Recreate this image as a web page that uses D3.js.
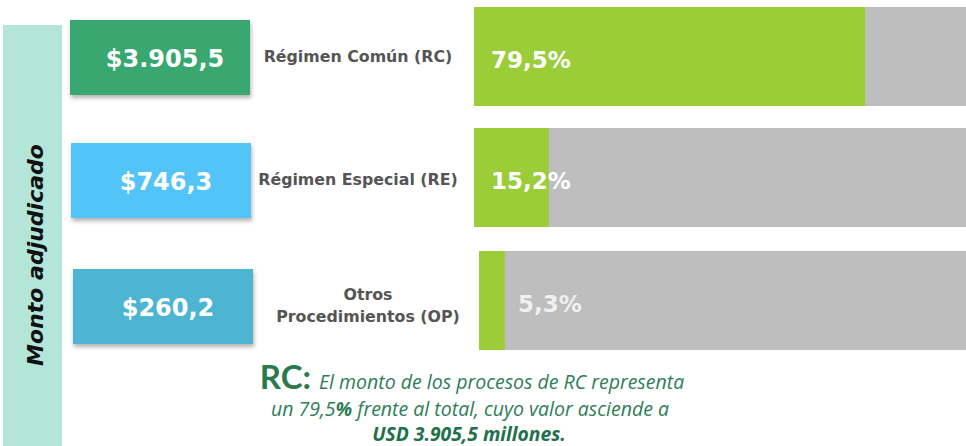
<!DOCTYPE html>
<html>
<head>
<meta charset="utf-8">
<script src="https://cdn.jsdelivr.net/npm/d3@7"></script>
<style>
  body { margin: 0; background: #fff; }
  svg { display: block; }
</style>
</head>
<body>
<script>
var width = 966;
var height = 446;

// data
var categories = ["Régimen Común (RC)", "Régimen Especial (RE)", "Otros Procedimientos (OP)"];
var labelLines = [["Régimen Común (RC)"], ["Régimen Especial (RE)"], ["Otros", "Procedimientos (OP)"]];
var amounts = ["$3.905,5", "$746,3", "$260,2"];
var shares = [79.5, 15.2, 5.3];
var shareLabels = ["79,5%", "15,2%", "5,3%"];

// layout per row
var boxColors = ["#38a76f", "#52c4f8", "#4eb4d2"];
var boxX = [70, 71, 73];
var boxY = [20, 143, 269];
var barX = [474, 474, 479];
var barY = [7, 128, 251];
var barH = 99;
var barRight = 966;

var svg = d3.select("body").append("svg")
  .attr("width", width)
  .attr("height", height);

var defs = svg.append("defs");
var f = defs.append("filter").attr("id", "shadow")
  .attr("x", "-10%").attr("y", "-10%").attr("width", "125%").attr("height", "135%");
f.append("feDropShadow")
  .attr("dx", 1).attr("dy", 3).attr("stdDeviation", 2)
  .attr("flood-color", "#000").attr("flood-opacity", 0.3);

// side band
svg.append("rect")
  .attr("x", 3).attr("y", 25).attr("width", 59).attr("height", height - 25)
  .attr("fill", "#b3e6d9");

svg.append("text")
  .attr("transform", "translate(43,255) rotate(-90)")
  .attr("text-anchor", "middle")
  .attr("font-family", "'DejaVu Sans', sans-serif")
  .attr("font-weight", "bold")
  .attr("font-style", "italic")
  .attr("font-size", 22)
  .attr("fill", "#111")
  .text("Monto adjudicado");

var rows = svg.selectAll("g.row")
  .data(categories)
  .enter().append("g").attr("class", "row");

// amount boxes
rows.append("rect")
  .attr("x", function (d, i) { return boxX[i]; })
  .attr("y", function (d, i) { return boxY[i]; })
  .attr("width", 180).attr("height", 75)
  .attr("fill", function (d, i) { return boxColors[i]; })
  .attr("filter", "url(#shadow)");

rows.append("text")
  .attr("x", function (d, i) { return boxX[i] + 95; })
  .attr("y", function (d, i) { return boxY[i] + 47; })
  .attr("text-anchor", "middle")
  .attr("font-family", "'DejaVu Sans', sans-serif")
  .attr("font-weight", "bold")
  .attr("font-size", 24)
  .attr("fill", "#fff")
  .text(function (d, i) { return amounts[i]; });

// category labels
rows.each(function (d, i) {
  var lines = labelLines[i];
  var cy = boxY[i] + 37;
  var cx = lines.length > 1 ? 368 : 358;
  var t = d3.select(this).append("text")
    .attr("text-anchor", "middle")
    .attr("font-family", "'DejaVu Sans', sans-serif")
    .attr("font-weight", "bold")
    .attr("font-size", 15.8)
    .attr("fill", "#555");
  lines.forEach(function (line, j) {
    t.append("tspan")
      .attr("x", cx)
      .attr("y", cy + 5 + (j - (lines.length - 1) / 2) * 22)
      .text(line);
  });
});

// share bars
rows.each(function (d, i) {
  var x = d3.scaleLinear().domain([0, 100]).range([barX[i], barRight]);
  var g = d3.select(this);
  g.append("rect")
    .attr("x", x(0)).attr("y", barY[i])
    .attr("width", x(100) - x(0)).attr("height", barH)
    .attr("fill", "#bebebe");
  g.append("rect")
    .attr("x", x(0)).attr("y", barY[i])
    .attr("width", x(shares[i]) - x(0)).attr("height", barH)
    .attr("fill", "#9acd38");
  g.append("text")
    .attr("x", i == 2 ? 518 : 491)
    .attr("y", barY[i] + 61)
    .attr("font-family", "'DejaVu Sans', sans-serif")
    .attr("font-weight", "bold")
    .attr("font-size", 23)
    .attr("fill", i == 2 ? "#f0f0f0" : "#fff")
    .text(shareLabels[i]);
});

// note
var note = svg.append("text")
  .attr("text-anchor", "middle")
  .attr("font-family", "'Open Sans', sans-serif")
  .attr("fill", "#2e7d57");

note.append("tspan")
  .attr("x", 472).attr("y", 389)
  .attr("font-family", "Lato, sans-serif")
  .attr("font-weight", "bold")
  .attr("font-size", 33)
  .attr("fill", "#2b7a4e")
  .text("RC: ");
note.append("tspan")
  .attr("font-style", "italic")
  .attr("font-size", 19.5)
  .text("El monto de los procesos de RC representa");

var l2 = svg.append("text")
  .attr("x", 470).attr("y", 416)
  .attr("text-anchor", "middle")
  .attr("font-family", "'Open Sans', sans-serif")
  .attr("font-style", "italic")
  .attr("font-size", 19.5)
  .attr("fill", "#2e7d57");
l2.append("tspan").text("un 79,5");
l2.append("tspan").attr("font-weight", "bold").text("%");
l2.append("tspan").text("  frente al total, cuyo valor asciende a");

svg.append("text")
  .attr("x", 469).attr("y", 441)
  .attr("text-anchor", "middle")
  .attr("font-family", "'Open Sans', sans-serif")
  .attr("font-style", "italic")
  .attr("font-weight", "bold")
  .attr("font-size", 19.3)
  .attr("fill", "#22704a")
  .text("USD 3.905,5 millones.");
</script>
</body>
</html>
